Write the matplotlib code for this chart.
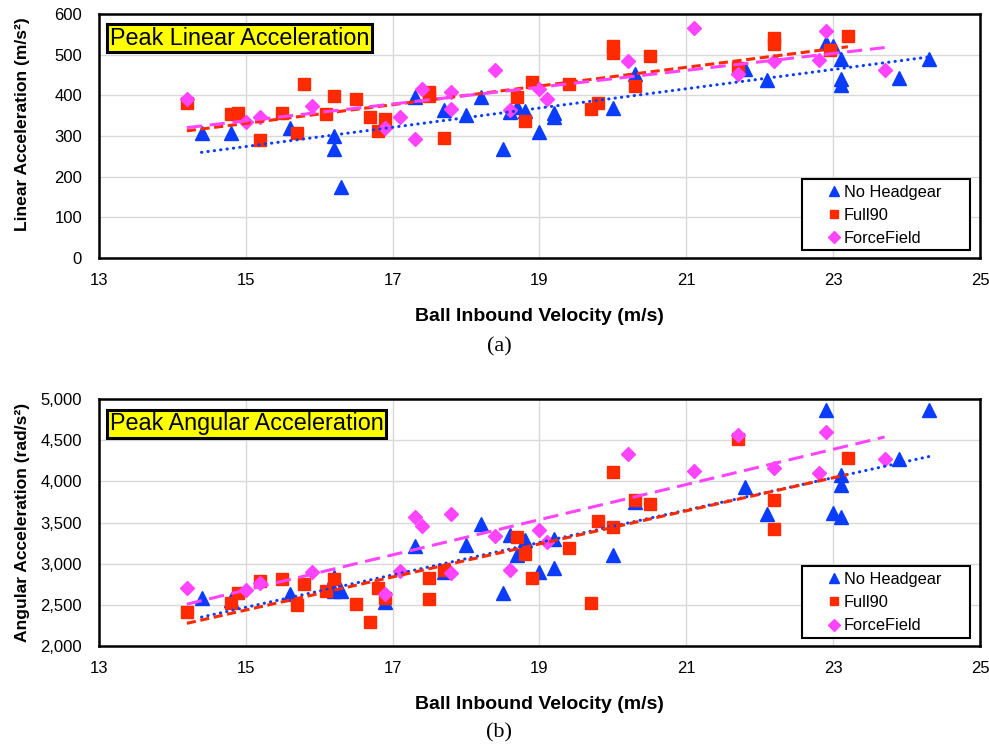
import numpy as np
from matplotlib import pyplot as plt
from matplotlib.patches import Rectangle
from matplotlib.ticker import FuncFormatter

plt.rcParams["font.family"] = ["Liberation Sans", "DejaVu Sans"]

# colours of the three headgear conditions
blue = "#0a3cff"
red = "#ff2a00"
pink = "#ff44ff"

# ---- peak linear acceleration (m/s^2) ----
lin_none_v = [14.4, 14.8, 15.6, 16.2, 16.2, 16.3, 17.3, 17.7, 18.0, 18.2, 18.5, 18.6,
              18.7, 18.8, 19.0, 19.2, 19.2, 20.0, 20.3, 21.8, 22.1, 22.9, 23.0, 23.1,
              23.1, 23.1, 23.9, 24.3]
lin_none_a = [308, 308, 320, 300, 267, 174, 396, 363, 351, 396, 269, 360,
              372, 361, 310, 357, 347, 370, 452, 464, 437, 528, 522, 489,
              441, 425, 442, 489]

lin_full_v = [14.2, 14.8, 14.9, 15.2, 15.5, 15.7, 15.8, 16.1, 16.2, 16.5, 16.7, 16.8,
              16.9, 17.5, 17.5, 17.7, 18.7, 18.8, 18.9, 19.4, 19.7, 19.8, 20.0, 20.0,
              20.3, 20.5, 21.7, 22.2, 22.2, 22.95, 23.2]
lin_full_a = [380, 353, 356, 290, 356, 308, 427, 353, 398, 390, 347, 312,
              342, 398, 408, 294, 396, 337, 433, 427, 367, 382, 522, 505,
              423, 496, 466, 542, 526, 512, 545]

lin_ff_v = [14.2, 15.0, 15.2, 15.9, 16.9, 17.1, 17.3, 17.4, 17.8, 17.8, 18.4, 18.6,
            19.0, 19.1, 20.2, 21.1, 21.7, 22.2, 22.8, 22.9, 23.7]
lin_ff_a = [390, 334, 347, 375, 320, 347, 293, 416, 409, 367, 462, 365,
            415, 390, 485, 565, 452, 485, 486, 559, 462]

# ---- peak angular acceleration (rad/s^2) ----
ang_none_v = [14.4, 14.8, 15.6, 16.2, 16.2, 16.3, 16.9, 17.3, 17.7, 18.0, 18.2, 18.5,
              18.6, 18.7, 18.8, 19.0, 19.2, 19.2, 20.0, 20.3, 21.8, 22.1, 22.9, 23.0,
              23.1, 23.1, 23.1, 23.9, 24.3]
ang_none_a = [2579, 2560, 2628, 2842, 2668, 2668, 2530, 3215, 2903, 3227, 3482, 2640,
              3348, 3105, 3288, 2903, 3296, 2951, 3105, 3753, 3935, 3603, 4867, 3620,
              4077, 3956, 3571, 4271, 4867]

ang_full_v = [14.2, 14.8, 14.9, 15.2, 15.5, 15.7, 15.8, 16.1, 16.2, 16.5, 16.7, 16.8,
              16.9, 17.5, 17.5, 17.7, 18.7, 18.8, 18.9, 19.4, 19.7, 19.8, 20.0, 20.0,
              20.3, 20.5, 21.7, 22.2, 22.2, 23.2]
ang_full_a = [2417, 2519, 2640, 2790, 2814, 2498, 2753, 2668, 2814, 2510, 2288, 2708,
              2579, 2822, 2567, 2923, 3320, 3117, 2830, 3194, 2519, 3518, 4117, 3441,
              3773, 3725, 4511, 3773, 3417, 4287]

ang_ff_v = [14.2, 15.0, 15.2, 15.9, 16.9, 17.1, 17.3, 17.4, 17.8, 17.8, 18.4, 18.6,
            19.0, 19.1, 20.2, 21.1, 21.7, 22.2, 22.8, 22.9, 23.7]
ang_ff_a = [2708, 2680, 2770, 2903, 2632, 2911, 3571, 3461, 3600, 2883, 3340, 2923,
            3409, 3267, 4332, 4126, 4563, 4158, 4098, 4603, 4271]

fig = plt.figure(figsize=(9.89, 7.45), dpi=100)
ax1 = fig.add_axes([0.0998, 0.6537, 0.8912, 0.3275])
ax2 = fig.add_axes([0.0998, 0.1329, 0.8912, 0.3315])


def draw_panel(ax, series, ylim, ystep, ylabel, ylabel_y, title, fmt):
    ax.set_xlim(13, 25)
    ax.set_ylim(*ylim)
    ax.set_xticks(np.arange(13, 26, 2))
    ax.set_yticks(np.arange(ylim[0], ylim[1] + 1, ystep))
    ax.grid(color="#d9d9d9", linewidth=1)
    ax.set_axisbelow(True)
    for s in ax.spines.values():
        s.set_linewidth(1.8)
    ax.tick_params(length=0, labelsize=12)
    ax.tick_params(axis="x", pad=11)
    ax.tick_params(axis="y", pad=12)
    ax.yaxis.set_major_formatter(FuncFormatter(fmt))

    # scatter points
    for v, a, color, marker, ms, label, ls in series:
        ax.plot(v, a, linestyle="none", marker=marker, color=color, markersize=ms,
                label=label, zorder=3)
    # linear trendlines across each series' velocity range
    for v, a, color, marker, ms, label, ls in series:
        k, b = np.polyfit(v, a, 1)
        xs = np.array([min(v), max(v)])
        ax.plot(xs, k * xs + b, color=color, linewidth=2.2, linestyle=ls, zorder=4,
                dash_capstyle="round" if ls == dot else "butt")

    ax.set_xlabel("Ball Inbound Velocity (m/s)", fontsize=14, fontweight="bold", labelpad=14)
    ax.set_ylabel(ylabel, fontsize=12.6, fontweight="bold")
    ax.yaxis.set_label_coords(-0.078, ylabel_y)

    ax.text(0.0125, 0.9, title, transform=ax.transAxes, fontsize=16.8, va="center",
            bbox=dict(facecolor="#ffff00", edgecolor="black", linewidth=2.2, pad=1.8), zorder=6)

    # legend box drawn separately, Excel style wide side padding
    ax.add_patch(Rectangle((0.798, 0.032), 0.191, 0.29, transform=ax.transAxes,
                           facecolor="white", edgecolor="black", linewidth=1.5, zorder=7))
    handles, labels = ax.get_legend_handles_labels()
    leg = ax.legend(handles, labels, loc="upper left", bbox_to_anchor=(0.827, 0.30),
                    fontsize=11.8, frameon=False, markerscale=0.75,
                    handlelength=0.8, handletextpad=0.2, borderpad=0, labelspacing=0.5,
                    borderaxespad=0)
    leg.set_zorder(8)


dot = (0, (0.1, 2))
draw_panel(ax1,
           [(lin_none_v, lin_none_a, blue, "^", 10, "No Headgear", dot),
            (lin_full_v, lin_full_a, red, "s", 8, "Full90", (0, (3, 1.5))),
            (lin_ff_v, lin_ff_a, pink, "D", 7.5, "ForceField", (0, (5, 2.5)))],
           (0, 600), 100, "Linear Acceleration (m/s²)", 0.55, "Peak Linear Acceleration",
           lambda x, p: f"{x:.0f}")
draw_panel(ax2,
           [(ang_none_v, ang_none_a, blue, "^", 10, "No Headgear", dot),
            (ang_full_v, ang_full_a, red, "s", 8, "Full90", (0, (3, 1.5))),
            (ang_ff_v, ang_ff_a, pink, "D", 7.5, "ForceField", (0, (5, 2.5)))],
           (2000, 5000), 500, "Angular Acceleration (rad/s²)", 0.5, "Peak Angular Acceleration",
           lambda x, p: f"{x:,.0f}")

fig.text(0.5045, 0.535, "(a)", fontsize=16, family="Liberation Serif", ha="center", va="center")
fig.text(0.5045, 0.016, "(b)", fontsize=16, family="Liberation Serif", ha="center", va="center")

plt.savefig("out.png", dpi=100)
